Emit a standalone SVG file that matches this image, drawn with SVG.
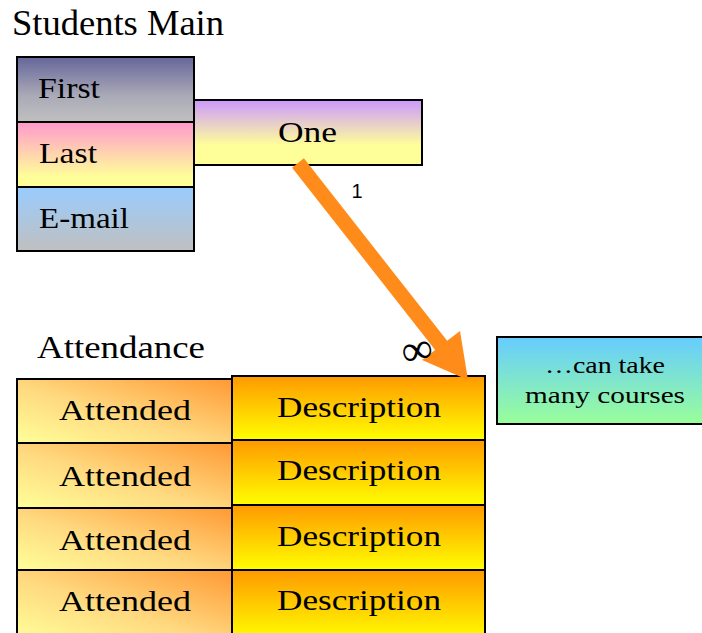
<svg xmlns="http://www.w3.org/2000/svg" width="702" height="633" viewBox="0 0 702 633">
<defs>
<linearGradient id="gFirst" x1="0" y1="0" x2="0" y2="1"><stop offset="0" stop-color="#66669a"/><stop offset="0.6" stop-color="#aaaab8"/><stop offset="1" stop-color="#c0c0c0"/></linearGradient>
<linearGradient id="gLast" x1="0" y1="0" x2="0" y2="1"><stop offset="0" stop-color="#ff99cc"/><stop offset="0.85" stop-color="#ffff99"/><stop offset="1" stop-color="#ffff99"/></linearGradient>
<linearGradient id="gMail" x1="0" y1="0" x2="0" y2="1"><stop offset="0" stop-color="#99ccff"/><stop offset="1" stop-color="#c0c0c0"/></linearGradient>
<linearGradient id="gOne" x1="0" y1="0" x2="0" y2="1"><stop offset="0" stop-color="#cc99ff"/><stop offset="0.7" stop-color="#ffff99"/><stop offset="1" stop-color="#ffff99"/></linearGradient>
<linearGradient id="gAtt" x1="0" y1="1" x2="1" y2="0"><stop offset="0" stop-color="#ffff99"/><stop offset="0.45" stop-color="#ffd980"/><stop offset="1" stop-color="#ff9933"/></linearGradient>
<linearGradient id="gDesc" x1="0" y1="0" x2="0" y2="1"><stop offset="0" stop-color="#ff9900"/><stop offset="1" stop-color="#ffff00"/></linearGradient>
<linearGradient id="gNote" x1="0" y1="0" x2="0" y2="1"><stop offset="0" stop-color="#66ccff"/><stop offset="1" stop-color="#99ff99"/></linearGradient>
</defs>
<style>
.box{stroke:#000;stroke-width:2}
text{fill:#000}
.s{font-family:'Liberation Serif','DejaVu Serif',serif}
.c{text-anchor:middle}
</style>
<g class="s">
<text class="s" x="12" y="35" font-size="36" textLength="212" lengthAdjust="spacingAndGlyphs">Students Main</text>
<g id="first"><rect class="box" x="17" y="57" width="177" height="65" fill="url(#gFirst)"/><text class="s" x="38" y="98" font-size="30" textLength="62" lengthAdjust="spacingAndGlyphs">First</text></g>
<g id="last"><rect class="box" x="17" y="122" width="177" height="65" fill="url(#gLast)"/><text class="s" x="39" y="163" font-size="30" textLength="58" lengthAdjust="spacingAndGlyphs">Last</text></g>
<g id="email"><rect class="box" x="17" y="187" width="177" height="64" fill="url(#gMail)"/><text class="s" x="39" y="228" font-size="30" textLength="90" lengthAdjust="spacingAndGlyphs">E-mail</text></g>
<g id="one"><rect class="box" x="194" y="100" width="228" height="65" fill="url(#gOne)"/><text class="s" x="278" y="142" font-size="30" textLength="59" lengthAdjust="spacingAndGlyphs">One</text></g>
<text class="s" x="37" y="358" font-size="32" textLength="168" lengthAdjust="spacingAndGlyphs">Attendance</text>
<g id="att1"><rect class="box" x="17" y="379" width="215" height="64" fill="url(#gAtt)"/><text class="s" x="59" y="420" font-size="30" textLength="132" lengthAdjust="spacingAndGlyphs">Attended</text></g>
<g id="att2"><rect class="box" x="17" y="443" width="215" height="65" fill="url(#gAtt)"/><text class="s" x="59" y="486" font-size="30" textLength="132" lengthAdjust="spacingAndGlyphs">Attended</text></g>
<g id="att3"><rect class="box" x="17" y="508" width="215" height="62" fill="url(#gAtt)"/><text class="s" x="59" y="550" font-size="30" textLength="132" lengthAdjust="spacingAndGlyphs">Attended</text></g>
<g id="att4"><rect class="box" x="17" y="570" width="215" height="70" fill="url(#gAtt)"/><text class="s" x="59" y="611" font-size="30" textLength="132" lengthAdjust="spacingAndGlyphs">Attended</text></g>
<g id="desc1"><rect class="box" x="232" y="376" width="253" height="64" fill="url(#gDesc)"/><text class="s" x="277" y="417" font-size="30" textLength="164" lengthAdjust="spacingAndGlyphs">Description</text></g>
<g id="desc2"><rect class="box" x="232" y="440" width="253" height="65" fill="url(#gDesc)"/><text class="s" x="277" y="480" font-size="30" textLength="164" lengthAdjust="spacingAndGlyphs">Description</text></g>
<g id="desc3"><rect class="box" x="232" y="505" width="253" height="65" fill="url(#gDesc)"/><text class="s" x="277" y="546" font-size="30" textLength="164" lengthAdjust="spacingAndGlyphs">Description</text></g>
<g id="desc4"><rect class="box" x="232" y="570" width="253" height="70" fill="url(#gDesc)"/><text class="s" x="277" y="610" font-size="30" textLength="164" lengthAdjust="spacingAndGlyphs">Description</text></g>
<g id="note"><rect class="box" x="497" y="337" width="210" height="87" fill="url(#gNote)"/><text class="s c" x="605" y="373" font-size="24" textLength="120" lengthAdjust="spacingAndGlyphs">…can take</text><text class="s c" x="605" y="403" font-size="24" textLength="160" lengthAdjust="spacingAndGlyphs">many courses</text></g>
</g>
<g id="connectors">
<line x1="298" y1="163" x2="444" y2="349" stroke="#ff8c1a" stroke-width="15"/>
<polygon points="468,380 422,360 460,331" fill="#ff8c1a"/>
<text x="357" y="198" font-family="'Liberation Sans', Arial, sans-serif" font-size="20" text-anchor="middle">1</text>
<text class="s" x="417" y="364" font-size="44" text-anchor="middle" transform="rotate(-12 417 350)">∞</text>
</g>
</svg>
